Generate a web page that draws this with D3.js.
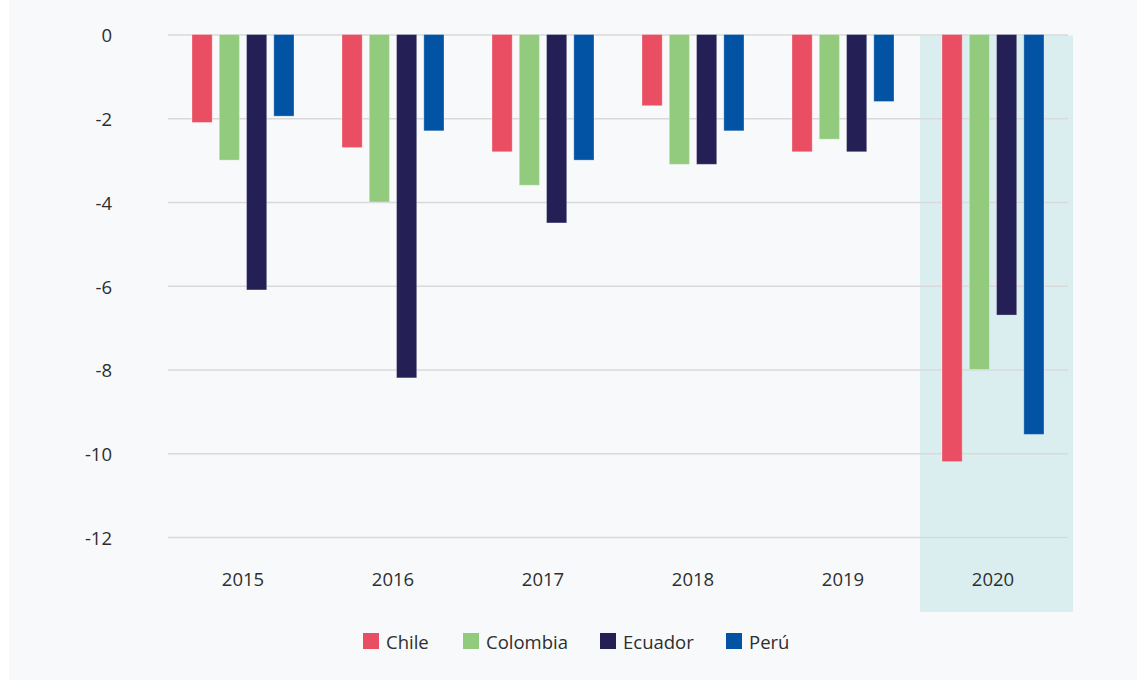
<!DOCTYPE html>
<html>
<head>
<meta charset="utf-8">
<script src="https://cdn.jsdelivr.net/npm/d3@7"></script>
<style>
  html, body { margin: 0; padding: 0; background: #ffffff; }
  svg { display: block; }
  text { font-family: "Open Sans", "Noto Sans", sans-serif; fill: #2e2e2e; }
</style>
</head>
<body>
<svg id="chart" width="1137" height="680"></svg>
<script>
const years = ["2015", "2016", "2017", "2018", "2019", "2020"];
const countries = ["Chile", "Colombia", "Ecuador", "Perú"];
const chile    = [-2.1, -2.7, -2.8, -1.7, -2.8, -10.2];
const colombia = [-3.0, -4.0, -3.6, -3.1, -2.5, -8.0];
const ecuador  = [-6.1, -8.2, -4.5, -3.1, -2.8, -6.7];
const peru     = [-1.95, -2.3, -3.0, -2.3, -1.6, -9.55];
const yTicks = [0, -2, -4, -6, -8, -10, -12];
const highlightYear = "2020";

const seriesValues = [chile, colombia, ecuador, peru];
const colors = ["#e94e62", "#93cb7e", "#241f55", "#0253a4"];
const FONT = '"Open Sans", "Noto Sans", sans-serif';

const svg = d3.select("#chart");
svg.append("rect").attr("x", 9).attr("y", 0).attr("width", 1128).attr("height", 680).attr("fill", "#f7f9fb");

const x0 = d3.scaleBand().domain(years).range([168, 1068]).paddingInner(0.32).paddingOuter(0.16);
const x1 = d3.scaleBand().domain(countries).range([0, x0.bandwidth()]).paddingInner(0.26);
const y = d3.scaleLinear().domain([0, -12]).range([34.5, 537]);

// highlight band
const step = x0.step();
svg.append("rect")
  .attr("x", x0(highlightYear) + x0.bandwidth() / 2 - step / 2 + 2)
  .attr("y", y(0) + 1)
  .attr("width", step + 3)
  .attr("height", 612 - y(0) - 1)
  .attr("fill", "#daeef0");

// grid + y labels
const yAxis = d3.axisLeft(y).tickValues(yTicks).tickSize(-(1068 - 168)).tickFormat(d3.format("d"));
const gy = svg.append("g").attr("transform", "translate(168,0)").call(yAxis);
gy.select(".domain").remove();
gy.selectAll(".tick line").attr("stroke", "#d9d9d9").attr("stroke-width", 1.5);
gy.selectAll(".tick text")
  .attr("x", -56).attr("dy", "0.4em")
  .style("font-size", "18.5px").attr("fill", "#2e2e2e")
  .style("font-family", FONT)
  .text(d => String(d).replace("−", "-"));

// x labels
const xAxis = d3.axisBottom(x0).tickSize(0);
const gx = svg.append("g").attr("transform", "translate(0,566)").call(xAxis);
gx.select(".domain").remove();
gx.selectAll(".tick text")
  .attr("dy", "0.9em")
  .style("font-size", "18.5px").attr("fill", "#2e2e2e")
  .style("font-family", FONT);

// bars
const groups = svg.append("g").selectAll("g").data(years).join("g")
  .attr("transform", d => `translate(${x0(d)},0)`);
groups.selectAll("rect")
  .data((yr, i) => countries.map((c, k) => ({ c, k, v: seriesValues[k][i] })))
  .join("rect")
  .attr("x", d => x1(d.c))
  .attr("width", x1.bandwidth())
  .attr("y", d => y(0))
  .attr("height", d => y(d.v) - y(0))
  .attr("fill", d => colors[d.k])
  .attr("stroke", "rgba(255,255,255,0.3)")
  .attr("stroke-width", 1);

// legend
const legendX = [363, 463, 600, 726];
const lg = svg.append("g").selectAll("g").data(countries).join("g")
  .attr("transform", (d, i) => `translate(${legendX[i]},633)`);
lg.append("rect").attr("width", 16).attr("height", 16).attr("fill", (d, i) => colors[i]);
lg.append("text").attr("x", 23).attr("y", 15.5)
  .style("font-size", "18.5px").text(d => d);
</script>
</body>
</html>
